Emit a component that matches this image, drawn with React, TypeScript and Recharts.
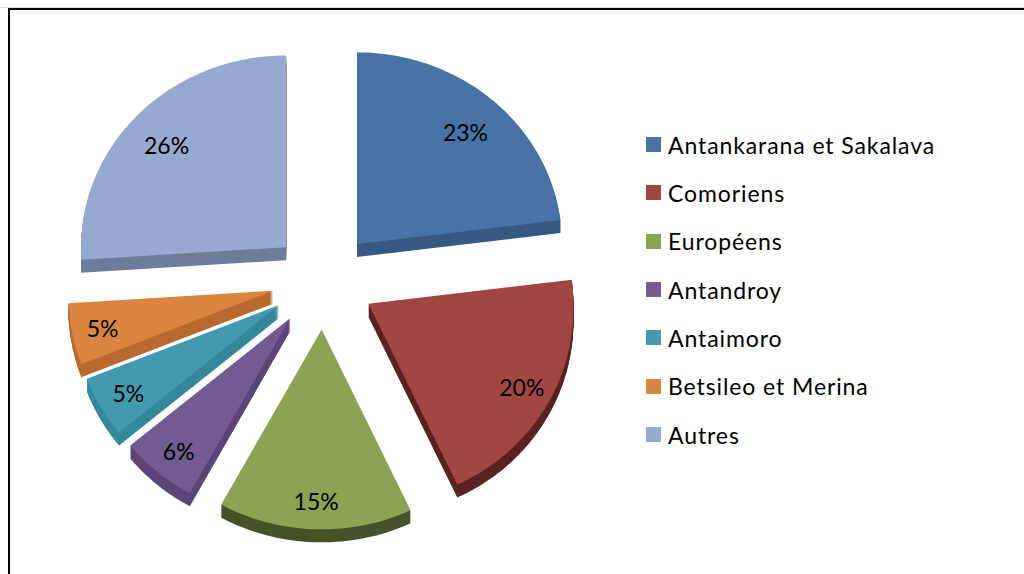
import React from 'react';
import { PieChart, Pie, Cell, Legend } from 'recharts';

const CATEGORIES = [
  'Antankarana et Sakalava',
  'Comoriens',
  'Européens',
  'Antandroy',
  'Antaimoro',
  'Betsileo et Merina',
  'Autres',
];
const SHARES = [23, 20, 15, 6, 5, 5, 26];
const COLORS = ['#4773A7', '#A24643', '#8AA453', '#735A91', '#4399AF', '#D9843F', '#96AACF'];
const DEPTH_COLORS = ['#375A84', '#5A2422', '#46532A', '#5C4676', '#37879A', '#B96A2F', '#6D7D9B'];

const data = CATEGORIES.map((name, i) => ({ name, value: SHARES[i] }));

const FONT = 'Lato, "Open Sans", sans-serif';
const EXPLODE = 51;
const DEPTH = 13;

const RAD = Math.PI / 180;
const ky = (s: number) => (s > 0 ? 0.935 : 0.975);
const kx = (s: number) => 1 + 0.02 * Math.max(0, -s);

function project(ax: number, ay: number, r: number, deg: number): [number, number] {
  const t = deg * RAD;
  const s = Math.sin(t);
  return [ax + r * Math.cos(t) * kx(s), ay - r * s * ky(s)];
}

function apexOf(cx: number, cy: number, mid: number): [number, number] {
  return project(cx, cy, EXPLODE, mid);
}

function slicePath(ax: number, ay: number, r: number, start: number, end: number, dy: number) {
  const n = Math.max(2, Math.ceil(Math.abs(end - start)));
  let d = `M${ax.toFixed(2)},${(ay + dy).toFixed(2)}`;
  for (let k = 0; k <= n; k++) {
    const a = start + ((end - start) * k) / n;
    const [x, y] = project(ax, ay, r, a);
    d += `L${x.toFixed(2)},${(y + dy).toFixed(2)}`;
  }
  return d + 'Z';
}

function indexOfProps(p: any): number {
  const name = p?.payload?.name ?? p?.name;
  const i = CATEGORIES.indexOf(name);
  return i >= 0 ? i : p?.index ?? 0;
}

const renderSlice = (p: any) => {
  const { cx, cy, outerRadius, startAngle, endAngle } = p;
  const i = indexOfProps(p);
  const mid = (startAngle + endAngle) / 2;
  const [ax, ay] = apexOf(cx, cy, mid);
  const layers = [];
  for (let d = DEPTH; d >= 1; d--) {
    layers.push(
      <path key={d} d={slicePath(ax, ay, outerRadius, startAngle, endAngle, d)} fill={DEPTH_COLORS[i]} stroke="none" />
    );
  }
  return (
    <g>
      {layers}
      <path d={slicePath(ax, ay, outerRadius, startAngle, endAngle, 0)} fill={COLORS[i]} stroke="none" />
    </g>
  );
};

const renderLabel = (p: any) => {
  const { cx, cy, midAngle, percent } = p;
  const [ax, ay] = apexOf(cx, cy, midAngle);
  const t = midAngle * RAD;
  const s = Math.sin(t);
  const c = Math.cos(t);
  const lx = ax + (s > 0 ? 164 : 175) * c;
  const ly = ay - (s > 0 ? 149 : 172) * s;
  return (
    <text
      x={lx}
      y={ly}
      textAnchor="middle"
      dominantBaseline="central"
      fill="#000"
      stroke="none"
      style={{ fontFamily: FONT, fontSize: 23 }}
    >
      {`${Math.round(percent * 100)}%`}
    </text>
  );
};

const ROW = 48.33;

const renderLegend = (props: any) => {
  const payload = [...(props.payload || [])].sort(
    (a: any, b: any) => CATEGORIES.indexOf(a.value) - CATEGORIES.indexOf(b.value)
  );
  return (
    <div style={{ position: 'relative', width: 340, height: ROW * 7 }}>
      {payload.map((e: any, i: number) => (
        <div
          key={i}
          style={{
            position: 'absolute',
            left: 0,
            top: i * ROW,
            height: ROW,
            display: 'flex',
            alignItems: 'center',
            whiteSpace: 'nowrap',
          }}
        >
          <span
            style={{
              display: 'inline-block',
              width: 15,
              height: 15,
              background: COLORS[CATEGORIES.indexOf(e.value)] ?? e.color,
              marginRight: 7,
            }}
          />
          <span
            style={{ fontFamily: FONT, fontSize: 23, letterSpacing: 0.9, color: '#000', lineHeight: '28px' }}
          >
            {e.value}
          </span>
        </div>
      ))}
    </div>
  );
};

export default function App() {
  return (
    <div
      style={{
        position: 'fixed',
        left: 0,
        top: 0,
        width: 1024,
        height: 574,
        background: '#fff',
        overflow: 'hidden',
      }}
    >
      <style>{'html,body{overflow:hidden;background:#fff;margin:0} svg:focus, .recharts-wrapper:focus, .recharts-surface:focus{outline:none}'}</style>
      <div style={{ position: 'absolute', left: 8, top: 8 }}>
        <PieChart
          width={1000}
          height={560}
          margin={{ top: 0, right: 0, bottom: 0, left: 0 }}
          accessibilityLayer={false}
          style={{ outline: 'none' }}
        >
          <Pie
            data={data}
            dataKey="value"
            nameKey="name"
            cx={315.3}
            cy={271.8}
            outerRadius={205}
            startAngle={90}
            endAngle={-270}
            stroke="none"
            isAnimationActive={false}
            labelLine={false}
            label={renderLabel}
            shape={renderSlice}
          >
            {data.map((d, i) => (
              <Cell key={d.name} fill={COLORS[i]} />
            ))}
          </Pie>
          <Legend
            layout="vertical"
            align="right"
            verticalAlign="middle"
            content={renderLegend}
            wrapperStyle={{ left: 638, top: 112.5, width: 340, height: ROW * 7 }}
          />
        </PieChart>
      </div>
      <div style={{ position: 'absolute', left: 0, top: 7, width: 1024, height: 1, background: '#d8d8d8' }} />
      <div style={{ position: 'absolute', left: 8, top: 8, width: 1016, height: 2, background: '#000' }} />
      <div style={{ position: 'absolute', left: 8, top: 8, width: 2, height: 566, background: '#000' }} />
    </div>
  );
}
